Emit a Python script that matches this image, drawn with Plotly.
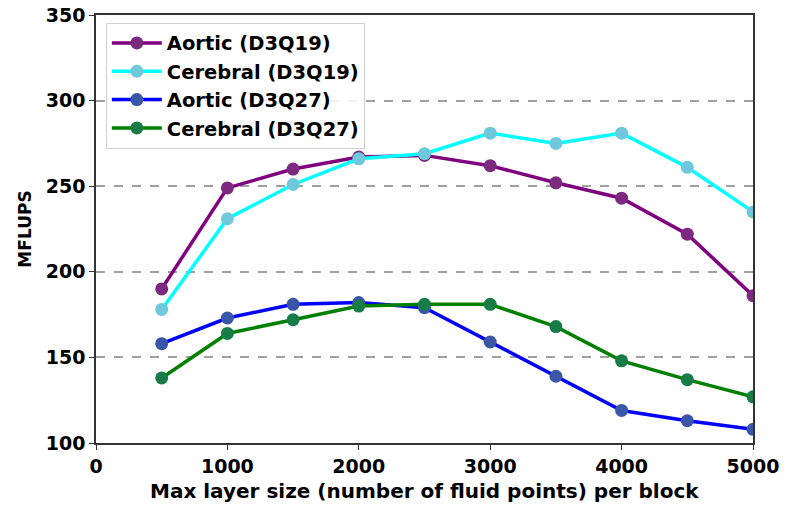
import plotly.graph_objects as go

x_vals = [500, 1000, 1500, 2000, 2500, 3000, 3500, 4000, 4500, 5000]
aortic_d3q19 = [190, 249, 260, 267, 268, 262, 252, 243, 222, 186]
cerebral_d3q19 = [178, 231, 251, 266, 269, 281, 275, 281, 261, 235]
aortic_d3q27 = [158, 173, 181, 182, 179, 159, 139, 119, 113, 108]
cerebral_d3q27 = [138, 164, 172, 180, 181, 181, 168, 148, 137, 127]

names = ["Aortic (D3Q19)", "Cerebral (D3Q19)", "Aortic (D3Q27)", "Cerebral (D3Q27)"]
series = [aortic_d3q19, cerebral_d3q19, aortic_d3q27, cerebral_d3q27]
line_colors = ["#800080", "#00ffff", "#0000ff", "#008000"]
marker_colors = ["#7b2a80", "#6fc8dc", "#3a56a8", "#187c46"]

x_ticks = [0, 1000, 2000, 3000, 4000, 5000]
y_ticks = [100, 150, 200, 250, 300, 350]

font_family = "DejaVu Sans"

fig = go.Figure()
for name, ys, lc, mc in zip(names, series, line_colors, marker_colors):
    fig.add_trace(go.Scatter(
        x=x_vals, y=ys, name=f"<b>{name}</b>", mode="lines+markers",
        line=dict(color=lc, width=3.5),
        marker=dict(color=mc, size=13, line=dict(width=0)),
        cliponaxis=True,
    ))

fig.update_layout(
    width=788, height=510,
    margin=dict(l=96, r=35, t=15, b=67, autoexpand=False),
    paper_bgcolor="white", plot_bgcolor="white",
    font=dict(family=font_family, size=16, color="black"),
    showlegend=True,
    legend=dict(
        x=0.015, y=0.982, xanchor="left", yanchor="top",
        bgcolor="rgba(255,255,255,0.85)", bordercolor="#d0d0d0", borderwidth=1,
        font=dict(family=font_family, size=19.5, color="black"),
        itemwidth=50, tracegroupgap=0,
    ),
    xaxis=dict(
        range=[0, 5000], tickvals=x_ticks, ticktext=[f"<b>{v}</b>" for v in x_ticks],
        tickfont=dict(size=19), automargin=False,
        showgrid=False, zeroline=False,
        showline=True, linecolor="#333", linewidth=1.5, mirror=True,
        ticks="outside", ticklen=5, tickcolor="#333",
    ),
    yaxis=dict(
        range=[100, 350], tickvals=y_ticks, ticktext=[f"<b>{v}</b>" for v in y_ticks],
        tickfont=dict(size=19), automargin=False,
        showgrid=True, gridcolor="#a0a0a0", griddash="dash", gridwidth=1.5,
        zeroline=False,
        showline=True, linecolor="#333", linewidth=1.5, mirror=True,
        ticks="outside", ticklen=5, tickcolor="#333",
        title=dict(text="<b>MFLUPS</b>", font=dict(size=17), standoff=10),
    ),
    annotations=[dict(
        text="<b>Max layer size (number of fluid points) per block</b>",
        xref="paper", yref="paper", x=0.5, y=0, yshift=-48,
        xanchor="center", yanchor="middle", showarrow=False,
        font=dict(family=font_family, size=20, color="black"),
    )],
)

fig.write_html("out.html", post_script="document.body.style.margin='0';",
               config={"displayModeBar": False})
